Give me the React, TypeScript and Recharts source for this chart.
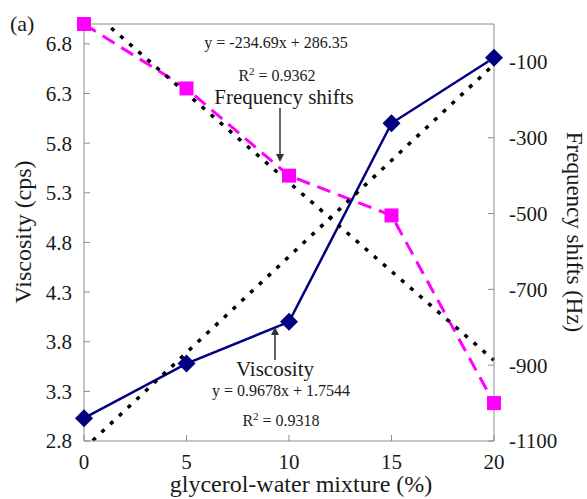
import React from 'react';
import { LineChart, Line, XAxis, YAxis, ReferenceLine } from 'recharts';

const mixture = [0, 5, 10, 15, 20];
const viscosity = [3.03, 3.58, 4.0, 6.0, 6.66];
const frequencyShift = [0, -170, -400, -505, -1000];
// linear trendlines as printed on the chart (Excel x = 1..5)
const viscosityTrend = [2.722, 3.69, 4.658, 5.626, 6.593];
const frequencyTrend = [51.66, -183.03, -417.72, -652.41, -887.1];

const leftTicks = [2.8, 3.3, 3.8, 4.3, 4.8, 5.3, 5.8, 6.3, 6.8];
const rightTicks = [-1100, -900, -700, -500, -300, -100];
const xTicks = [0, 5, 10, 15, 20];

const data = mixture.map((x, i) => ({
  x,
  viscosity: viscosity[i],
  freq: frequencyShift[i],
  viscTrend: viscosityTrend[i],
  freqTrend: frequencyTrend[i],
}));

const FONT = '"Liberation Serif", "Times New Roman", serif';
const AXIS = '#8c8c8c';
const tickStyle = { fontFamily: FONT, fontSize: 21, fill: '#1a1a1a' };

const Diamond = (props: any) => {
  const { cx, cy, index } = props;
  if (cx == null || cy == null) return null;
  const r = 9;
  return (
    <polygon
      key={`d-${index}`}
      points={`${cx},${cy - r} ${cx + r},${cy} ${cx},${cy + r} ${cx - r},${cy}`}
      fill="#000080"
    />
  );
};

const Square = (props: any) => {
  const { cx, cy, index } = props;
  if (cx == null || cy == null) return null;
  return <rect key={`s-${index}`} x={cx - 7} y={cy - 7} width={14} height={14} fill="#ff00ff" />;
};

export default function App() {
  return (
    <div style={{ position: 'absolute', left: 0, top: 0, width: 587, height: 499, background: '#fff' }}>
      <LineChart width={587} height={499} data={data} margin={{ top: 24, right: 0, bottom: 0, left: 0 }}>
        <XAxis
          dataKey="x"
          type="number"
          domain={[0, 20]}
          ticks={xTicks}
          interval={0}
          height={58}
          tick={tickStyle}
          tickSize={-6}
          tickMargin={19}
          axisLine={{ stroke: AXIS }}
          tickLine={{ stroke: AXIS }}
        />
        <YAxis
          yAxisId="left"
          domain={[2.8, 7.0]}
          ticks={leftTicks}
          interval={0}
          width={84}
          tick={tickStyle}
          tickSize={-6}
          tickMargin={18}
          axisLine={{ stroke: AXIS }}
          tickLine={{ stroke: AXIS }}
        />
        <YAxis
          yAxisId="right"
          orientation="right"
          domain={[-1100, 0]}
          ticks={rightTicks}
          interval={0}
          width={93}
          tick={{ ...tickStyle, textAnchor: 'start' }}
          tickSize={-6}
          tickMargin={21}
          axisLine={{ stroke: AXIS }}
          tickLine={{ stroke: AXIS }}
        />
        <YAxis yAxisId="leftTrend" hide domain={[2.8, 7.0]} allowDataOverflow />
        <YAxis yAxisId="rightTrend" hide domain={[-1100, 0]} allowDataOverflow />
        <ReferenceLine yAxisId="left" y={7.0} stroke={AXIS} />

        <Line
          yAxisId="right"
          dataKey="freq"
          stroke="#ff00ff"
          strokeWidth={3}
          strokeDasharray="14 8"
          dot={Square}
          activeDot={false}
          isAnimationActive={false}
        />
        <Line
          yAxisId="left"
          dataKey="viscosity"
          stroke="#000080"
          strokeWidth={2.5}
          dot={Diamond}
          activeDot={false}
          isAnimationActive={false}
        />
        <Line
          yAxisId="rightTrend"
          dataKey="freqTrend"
          stroke="#000"
          strokeWidth={3.5}
          strokeDasharray="4 8"
          dot={false}
          activeDot={false}
          isAnimationActive={false}
        />
        <Line
          yAxisId="leftTrend"
          dataKey="viscTrend"
          stroke="#000"
          strokeWidth={3.5}
          strokeDasharray="4 8"
          dot={false}
          activeDot={false}
          isAnimationActive={false}
        />
      </LineChart>

      <svg
        width={587}
        height={499}
        style={{ position: 'absolute', left: 0, top: 0, pointerEvents: 'none' }}
        fontFamily={FONT}
        fill="#1a1a1a"
      >
        <text x={10} y={31} fontSize={22}>(a)</text>

        <text x={31} y={232} fontSize={24} textAnchor="middle" transform="rotate(-90 31 232)">
          Viscosity (cps)
        </text>
        <text x={567} y={232} fontSize={23} textAnchor="middle" transform="rotate(90 567 232)">
          Frequency shifts (Hz)
        </text>
        <text x={301} y={492} fontSize={24} textAnchor="middle">
          glycerol-water mixture (%)
        </text>

        <text x={276} y={48} fontSize={16} textAnchor="middle">y = -234.69x + 286.35</text>
        <text x={277} y={81} fontSize={16} textAnchor="middle">
          R<tspan dy={-6} fontSize={11}>2</tspan><tspan dy={6}> = 0.9362</tspan>
        </text>
        <text x={284} y={104} fontSize={21} textAnchor="middle">Frequency shifts</text>
        <line x1={280} y1={108} x2={280} y2={155} stroke="#333" strokeWidth={1.5} />
        <polygon points="276,154 284,154 280,162" fill="#333" />

        <line x1={275} y1={360} x2={275} y2={334} stroke="#333" strokeWidth={1.5} />
        <polygon points="271,335 279,335 275,327" fill="#333" />
        <text x={275} y={376} fontSize={21} textAnchor="middle">Viscosity</text>
        <text x={281} y={396} fontSize={16} textAnchor="middle">y = 0.9678x + 1.7544</text>
        <text x={281} y={426} fontSize={16} textAnchor="middle">
          R<tspan dy={-6} fontSize={11}>2</tspan><tspan dy={6}> = 0.9318</tspan>
        </text>
      </svg>
    </div>
  );
}
